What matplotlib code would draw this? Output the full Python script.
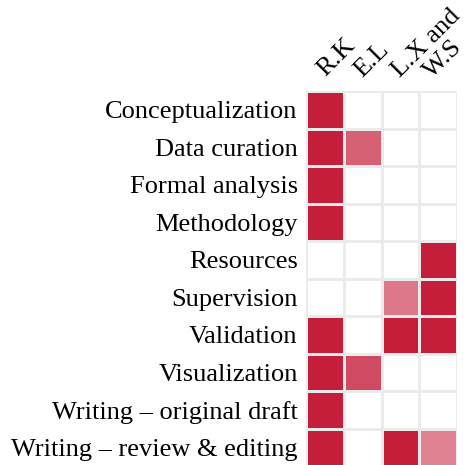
import numpy as np
import matplotlib
matplotlib.use('Agg')
import matplotlib.pyplot as plt
from matplotlib.colors import LinearSegmentedColormap

# data
roles = ['Conceptualization', 'Data curation', 'Formal analysis', 'Methodology',
         'Resources', 'Supervision', 'Validation', 'Visualization',
         'Writing – original draft', 'Writing – review & editing']
authors = ['R.K', 'E.L', 'L.X and', 'W.S']
rk = [1, 1, 1, 1, 0, 0, 1, 1, 1, 1]
el = [0, 0.7, 0, 0, 0, 0, 0, 0.8, 0, 0]
lx = [0, 0, 0, 0, 0, 0.6, 1, 0, 0, 1]
ws = [0, 0, 0, 0, 1, 1, 1, 0, 0, 0.55]

plt.rcParams['font.family'] = ['Liberation Serif', 'DejaVu Serif']

values = np.array([rk, el, lx, ws]).T
cmap = LinearSegmentedColormap.from_list('wr', ['#ffffff', '#c41e3a'])

fig = plt.figure(figsize=(4.67, 4.65), dpi=100)
ax = fig.add_axes([306 / 467, -1 / 465, 151 / 467, 375 / 465])
ax.pcolormesh(values, cmap=cmap, vmin=0, vmax=1, edgecolors='#ebebeb', linewidth=1)
ax.set_xlim(0, 4)
ax.set_ylim(10, 0)

ax.set_yticks(np.arange(len(roles)) + 0.5)
ax.set_yticklabels(roles, fontsize=19)
ax.set_xticks([])
ax.tick_params(axis='y', length=0, pad=6)
for s in ax.spines.values():
    s.set_visible(False)

# column labels, rotated above the grid (baseline starts at the cell centre)
label_x = [0.5, 0.5, 0.5, 0.33]
label_y = [-0.37, -0.35, -0.35, -0.32]
for j, name in enumerate(authors):
    ax.text(j + label_x[j], label_y[j], name, rotation=45, rotation_mode='anchor',
            ha='left', va='baseline', fontsize=19, clip_on=False)

fig.savefig('out.png', dpi=100)
